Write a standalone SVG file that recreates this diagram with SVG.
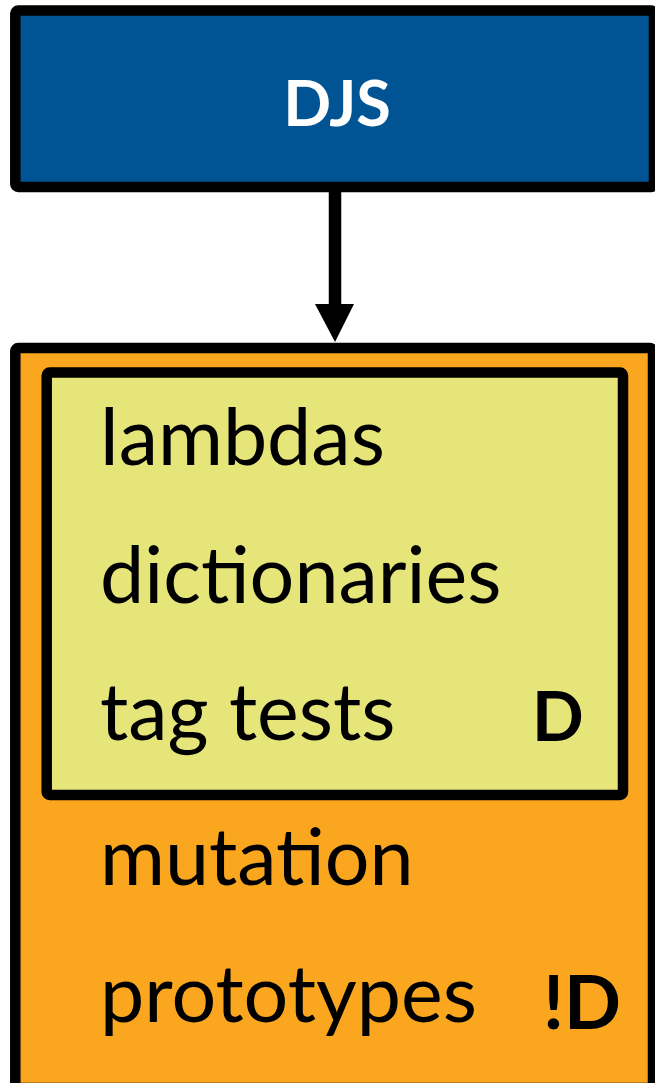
<svg xmlns="http://www.w3.org/2000/svg" width="655" height="1083" viewBox="0 0 655 1083">
<defs>
<style>
.box{stroke:#000;stroke-width:10.5;stroke-linejoin:round}
.t{font-family:Lato,"Open Sans",sans-serif;font-size:79px;fill:#000}
.b{font-family:Lato,"Open Sans",sans-serif;font-weight:bold}
</style>
</defs>
<rect width="655" height="1083" fill="#fff"/>
<g id="djs">
<rect class="box" x="15.3" y="10.5" width="638.7" height="176.5" rx="3" fill="#005493"/>
<text class="b" x="337" y="126" font-size="63" fill="#fff" text-anchor="middle">DJS</text>
</g>
<g id="outer">
<rect class="box" x="15.3" y="348" width="637.7" height="740" rx="3" fill="#FAA71F"/>
<text class="t" x="100" y="885">mutation</text>
<text class="t" x="100" y="1022">prototypes</text>
<text class="b" x="543" y="1029" font-size="75" fill="#000">!D</text>
</g>
<g id="inner">
<rect class="box" x="46.7" y="372.5" width="576.3" height="422.5" rx="3" fill="#E6E57A"/>
<text class="t" x="100" y="465">lambdas</text>
<text class="t" x="100" y="603">dictionaries</text>
<text class="t" x="100" y="740">tag tests</text>
<text class="b" x="532" y="741" font-size="68" fill="#000">D</text>
</g>
<g id="connectors">
<line x1="335" y1="187" x2="335" y2="306" stroke="#000" stroke-width="12.5"/>
<polygon points="315,304 354,304 335,342" fill="#000"/>
</g>
</svg>
